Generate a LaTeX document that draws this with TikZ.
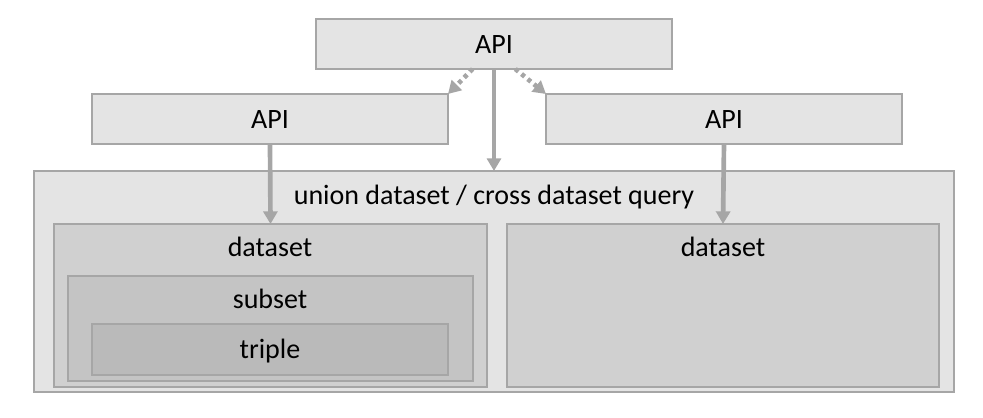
\documentclass[tikz,border=0pt]{standalone}
\usepackage{fontspec}
\setmainfont{Carlito}
\usetikzlibrary{arrows.meta}
\definecolor{boxline}{RGB}{166,166,166}
\definecolor{shadeA}{RGB}{228,228,228}
\definecolor{shadeB}{RGB}{208,208,208}
\definecolor{shadeC}{RGB}{196,196,196}
\definecolor{shadeD}{RGB}{186,186,186}
\tikzset{
  lvlbox/.style={draw=boxline,line width=1.3pt,inner sep=0pt,outer sep=0pt},
  lbl/.style={anchor=base,inner sep=0pt,font=\fontsize{21}{25}\selectfont},
  flow/.style={draw=boxline,line width=3.5pt,-{Triangle[width=10.5pt,length=9.5pt]}},
  hint/.style={flow,dash pattern=on 3pt off 3pt}
}
\begin{document}
\begin{tikzpicture}[x=0.75pt,y=-0.75pt]
\useasboundingbox (0,0) rectangle (983,418);
\def\lvl#1#2#3#4#5{
  \node[lvlbox,fill=#2,minimum width=#4*0.75pt,minimum height=#5*0.75pt] (#1) at #3 {};
}
    % API layer
\lvl{apitop}{shadeA}{(494,44)}{356}{50}
\lvl{apil}{shadeA}{(270,119)}{356}{50}
\lvl{apir}{shadeA}{(724,119)}{356}{50}
    % nested datasets
\lvl{union}{shadeA}{(494,281.5)}{920}{221}
\lvl{dsl}{shadeB}{(270.5,305.5)}{433}{163}
\lvl{subset}{shadeC}{(270.5,328.5)}{405}{105}
\lvl{triple}{shadeD}{(270,349.5)}{356}{51}
\lvl{dsr}{shadeB}{(723,305.5)}{432}{163}
\node[lbl] (apitoptxt) at (494,53) {API};
\node[lbl] (apiltxt) at (270,128) {API};
\node[lbl] (apirtxt) at (724,128) {API};
\node[lbl] (uniontxt) at (494,204) {union dataset / cross dataset query};
\node[lbl] (dsltxt) at (270,256) {dataset};
\node[lbl] (subsettxt) at (270,308) {subset};
\node[lbl] (tripletxt) at (270,358) {triple};
\node[lbl] (dsrtxt) at (723,256) {dataset};
    % connectors
\foreach \a/\b in {apitop/union,apil/dsl,apir/dsr} {
  \draw[flow] (\a.south) -- (\b.north);
}
\draw[hint] ([xshift=-16pt]apitop.south) -- (apil.north east);
\draw[hint] ([xshift=16pt]apitop.south) -- (apir.north west);
\end{tikzpicture}
\end{document}
